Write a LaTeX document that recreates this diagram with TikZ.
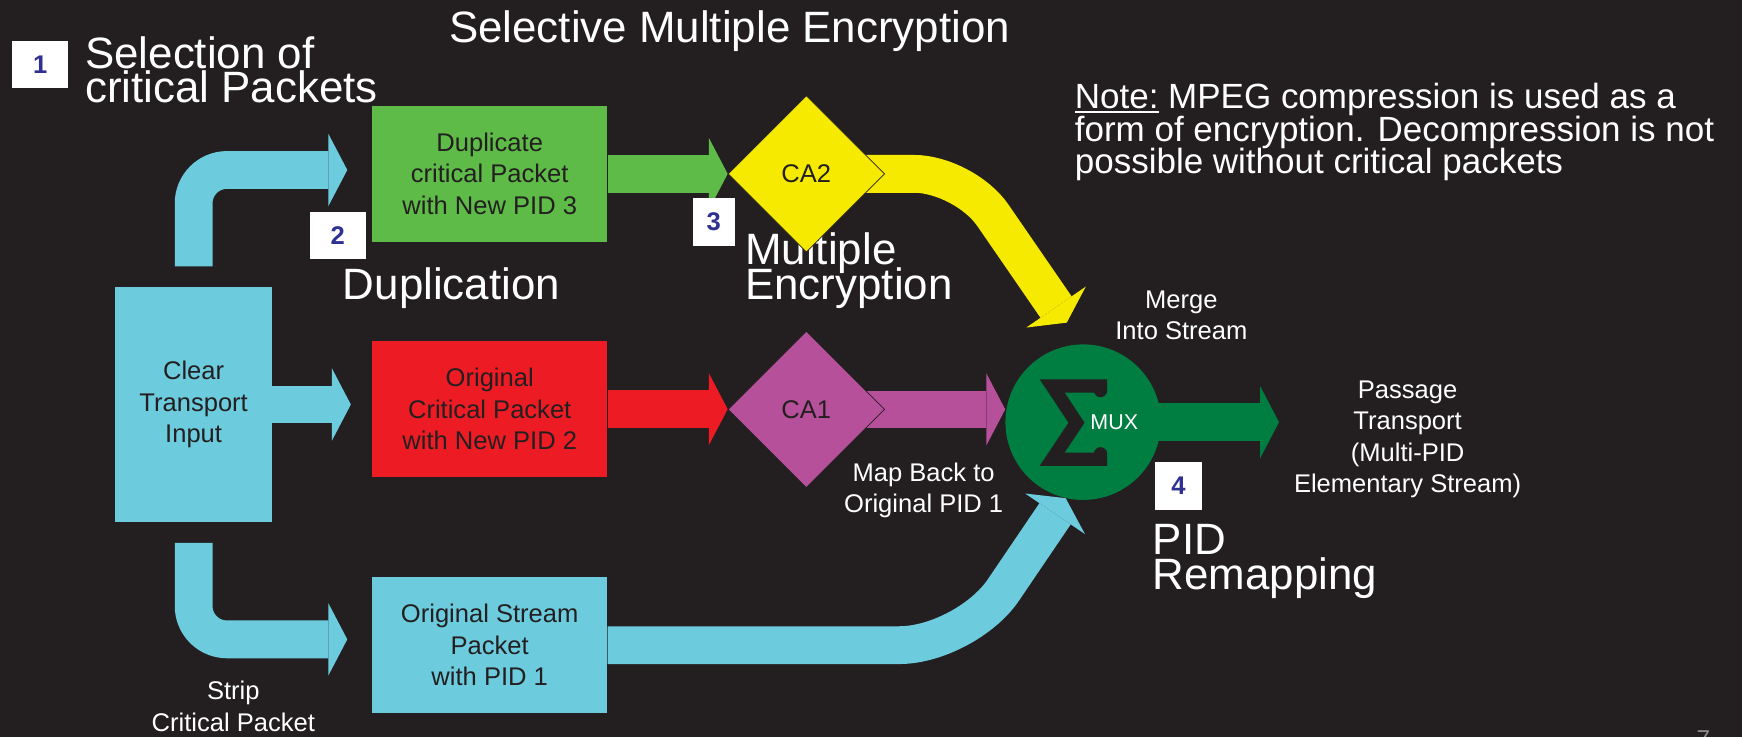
\documentclass[tikz,border=0pt]{standalone}
\usepackage{fontspec}
\setmainfont{Liberation Sans}
\usetikzlibrary{arrows.meta,shapes.geometric,calc}

\definecolor{bgc}{RGB}{35,31,32}
\definecolor{ink}{RGB}{35,31,32}
\definecolor{cyanfill}{RGB}{108,203,221}
\definecolor{greenfill}{RGB}{94,187,71}
\definecolor{redfill}{RGB}{237,28,36}
\definecolor{yellowfill}{RGB}{245,234,0}
\definecolor{purplefill}{RGB}{183,80,155}
\definecolor{muxgreen}{RGB}{0,125,64}
\definecolor{stepblue}{RGB}{46,49,146}
\definecolor{pagegray}{RGB}{140,140,140}

\newcommand{\FontBig}{\fontsize{39.5pt}{31pt}\selectfont}
\newcommand{\FontBox}{\fontsize{23pt}{28.5pt}\selectfont}
\newcommand{\FontSmall}{\fontsize{23pt}{28pt}\selectfont}
\newcommand{\FontNote}{\fontsize{31.5pt}{29pt}\selectfont}
\newcommand{\FontMux}{\fontsize{19.3pt}{20pt}\selectfont}
\newcommand{\FontStep}{\fontsize{23pt}{23pt}\selectfont\bfseries}

% stacked lines whose baseline is that of the first line
\newcommand{\stackc}[1]{\vtop{\lineskiplimit=-\maxdimen\halign{\hfil##\hfil\cr#1\crcr}}}
\newcommand{\stackl}[1]{\vtop{\lineskiplimit=-\maxdimen\halign{##\hfil\cr#1\crcr}}}
\newcommand{\noteul}[1]{\setbox0\hbox{#1}\rlap{\rule[-3.5pt]{\wd0}{1.6pt}}\box0\relax}

\pgfdeclarelayer{backdrop}
\pgfdeclarelayer{flow}
\pgfsetlayers{backdrop,flow,main}

\begin{document}
\begin{tikzpicture}[x=1pt,y=-1pt,
  flowarrow/.style={line width=34pt,
    -{Triangle[length=17pt 0 0,width=65pt 0 0,line width=0pt 0 0]}},
  packetbox/.style={rectangle,inner sep=0pt,minimum width=212pt,
    minimum height=122pt,font=\FontBox,text=ink},
  stepbox/.style={rectangle,fill=white,inner sep=0pt,font=\FontStep,text=stepblue},
  biglabel/.style={inner sep=0pt,anchor=base west,text=white,font=\FontBig},
  smalllabel/.style={inner sep=0pt,anchor=base,text=white,font=\FontSmall},
  cakey/.style={diamond,aspect=1,minimum width=141pt,minimum height=141pt,
    inner sep=0pt,draw=bgc,line width=0.6pt,font=\FontBox,text=ink}]

\useasboundingbox (0,0) rectangle (1568,663);
\begin{pgfonlayer}{backdrop}
  \fill[bgc] (0,0) rectangle (1568,663);
\end{pgfonlayer}

% headings and step markers
\node[biglabel] (title) at (404,38.4) {Selective Multiple Encryption};
\node[stepbox,minimum width=50pt,minimum height=42pt] (s1) at (36.2,57.8) {1};
\node[biglabel] (sel) at (76.5,61.5) {\stackl{Selection of\cr critical Packets}};
\node[stepbox,minimum width=50pt,minimum height=42.5pt] (s2) at (304,211.8) {2};
\node[biglabel] (dupl) at (308.5,270) {Duplication};
\node[stepbox,minimum width=38pt,minimum height=42.5pt] (s3) at (642.5,199.8) {3};
\node[biglabel] (menc) at (670.6,238.5) {\stackl{Multiple\cr Encryption}};
\node[stepbox,minimum width=43pt,minimum height=43pt] (s4) at (1060.7,437.5) {4};
\node[biglabel] (remap) at (1037.5,499.4) {\stackl{PID\cr Remapping}};

% packet blocks
\node[packetbox,fill=cyanfill,minimum width=141pt,minimum height=211pt]
  (clear) at (174.3,364.1) {\stackc{Clear\cr Transport\cr Input}};
\node[packetbox,fill=greenfill] (dup) at (440.8,156.5)
  {\stackc{Duplicate\cr critical Packet\cr with New PID 3}};
\node[packetbox,fill=redfill] (orig) at (440.8,368.3)
  {\stackc{Original\cr Critical Packet\cr with New PID 2}};
\node[packetbox,fill=cyanfill] (stream) at (440.8,580.7)
  {\stackc{Original Stream\cr Packet\cr with PID 1}};

% conditional access stages
\node[cakey,fill=yellowfill] (ca2) at (725.8,156.5) {CA2};
\node[cakey,fill=purplefill] (ca1) at (725.8,368.5) {CA1};

% multiplexer
\node[circle,fill=muxgreen,minimum size=140pt,inner sep=0pt] (mux) at (975,380) {};
\begin{scope}[shift={(mux.center)}]
  \draw[bgc,line width=12pt,line join=miter,miter limit=10,line cap=round]
    (15.6,-28.5) -- (15.6,-32.6) -- (-28,-32.6) -- (-6,0.5)
    -- (-28,33.4) -- (15.6,33.4) -- (15.6,28.5);
\end{scope}
\node[anchor=base west,inner sep=0pt,text=white,font=\FontMux] (muxlabel)
  at (981.3,386.5) {MUX};

% side labels
\node[smalllabel] (merge) at (1063.4,277.5) {\stackc{Merge\cr Into Stream}};
\node[smalllabel] (mapback) at (831.4,433.5) {\stackc{Map Back to\cr Original PID 1}};
\node[smalllabel] (passage) at (1267,359)
  {\stackc{Passage\cr Transport\cr (Multi-PID\cr Elementary Stream)}};
\node[smalllabel] (strip) at (210,630) {\stackc{Strip\cr Critical Packet}};
\node[inner sep=0pt,anchor=base west,text=white,font=\FontNote] (note) at (967.3,98)
  {\stackl{\noteul{Note:} MPEG compression is used as a\cr
   form of encryption. Decompression is not\cr
   possible without critical packets}};
\node[anchor=base west,inner sep=0pt,text=pagegray,font=\fontsize{22pt}{22pt}\selectfont]
  (pnum) at (1527,673) {7};

% packet flow
\begin{pgfonlayer}{flow}
  \coordinate (k1) at (174.3,153);
  \coordinate (k4) at (174.3,575.5);
  \coordinate (k2) at (868,156.5);
  \coordinate (t2) at (960.2,290.4);
  \coordinate (k3) at (869.5,580.7);
  \draw[flowarrow,cyanfill,rounded corners=30pt,shorten >=22pt]
    ([yshift=18.6pt]clear.north) -- (k1) -- (k1 -| dup.west);
  \draw[flowarrow,cyanfill,shorten >=18.8pt] (clear.east) -- (clear.east -| orig.west);
  \draw[flowarrow,cyanfill,rounded corners=30pt,shorten >=22pt]
    ([yshift=-18.8pt]clear.south) -- (k4) -- (k4 -| stream.west);
  \draw[flowarrow,greenfill] (dup.east) -- (ca2.west);
  \draw[flowarrow,redfill] (orig.east) -- (orig.east -| ca1.west);
  \draw[flowarrow,yellowfill,rounded corners=45pt] (ca2.center) -- (k2) -- (t2);
  \draw[flowarrow,purplefill] (ca1.center) -- (ca1 -| mux.west);
  \draw[flowarrow,cyanfill,rounded corners=60pt] (stream.east) -- (k3) -- (mux.257);
  \draw[flowarrow,muxgreen,shorten >=13.3pt] (mux.center) -- (mux -| passage.west);
\end{pgfonlayer}
\end{tikzpicture}
\end{document}
